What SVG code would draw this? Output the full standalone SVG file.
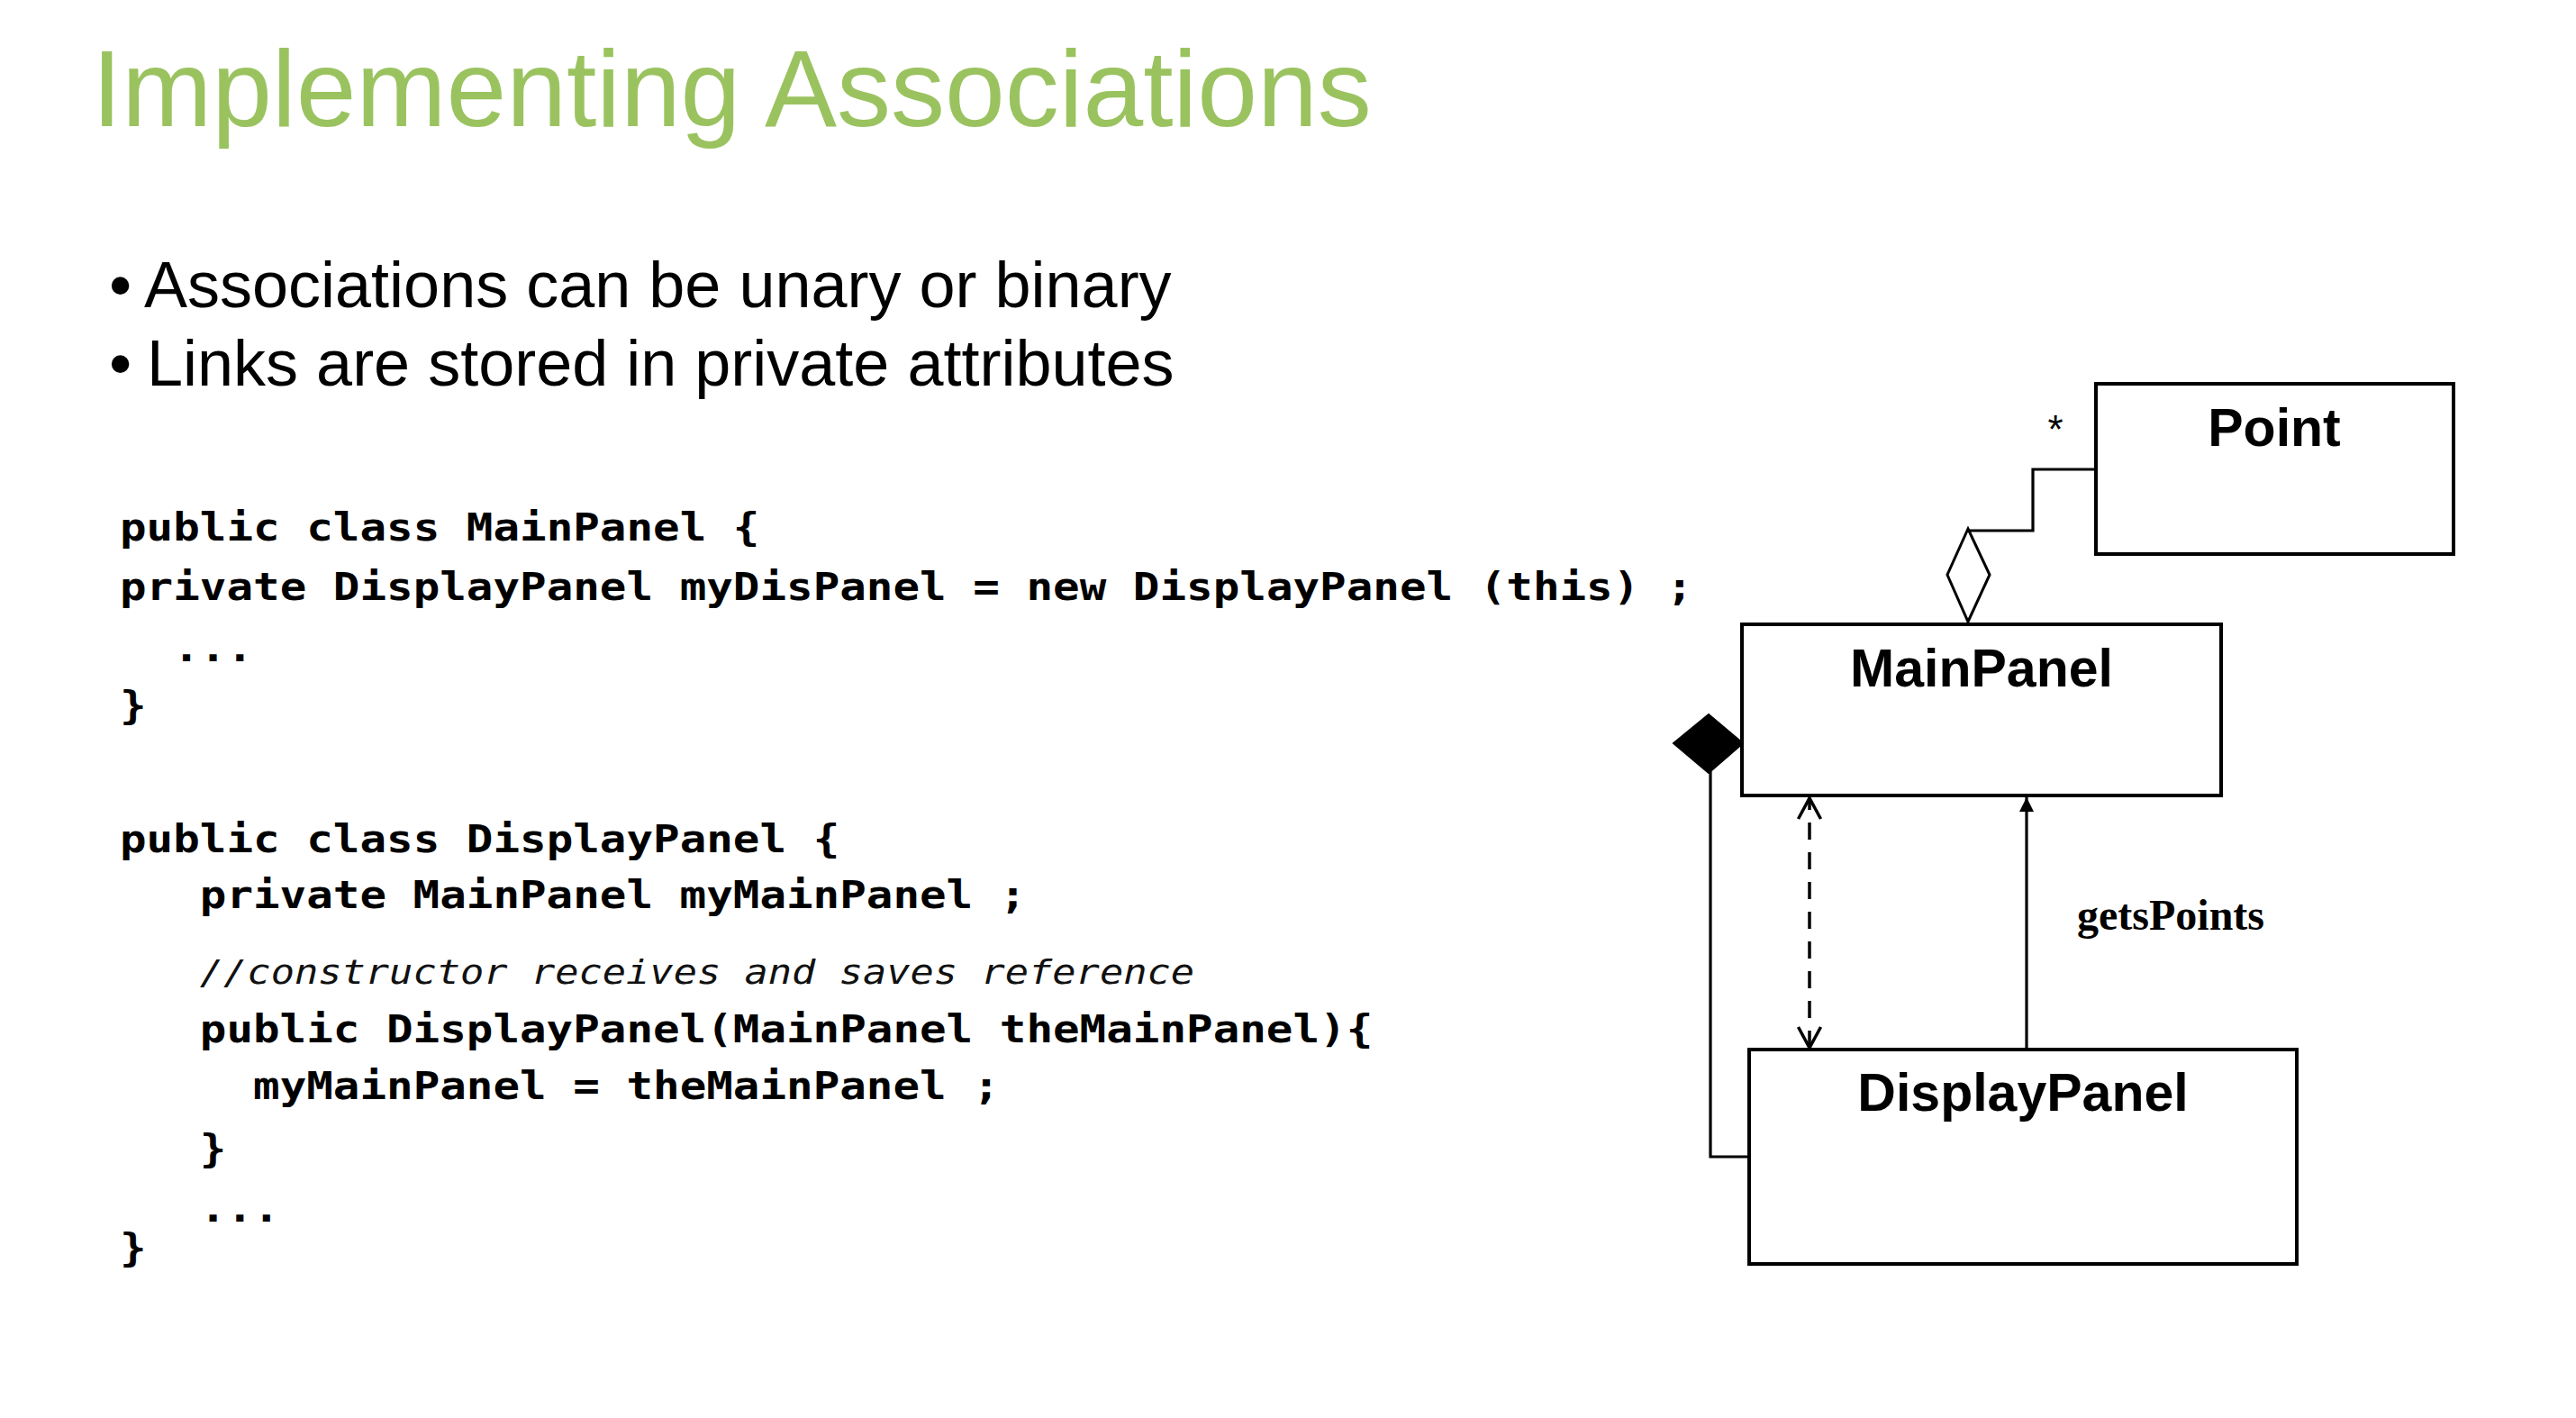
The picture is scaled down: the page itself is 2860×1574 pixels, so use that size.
<svg xmlns="http://www.w3.org/2000/svg" width="2860" height="1574" viewBox="0 0 2860 1574">
  <style>
    .title { font-family: "Liberation Sans", Arial, sans-serif; font-size: 120px; fill: #9AC360; }
    .bullet { font-family: "Liberation Sans", Arial, sans-serif; font-size: 72px; fill: #000; }
    .code { font-family: "DejaVu Sans Mono", monospace; font-size: 42px; font-weight: bold; fill: #000; white-space: pre; }
    .comment { font-family: "DejaVu Sans Mono", monospace; font-size: 37.3px; font-style: italic; fill: #111; }
    .box { fill: #fff; stroke: #000; stroke-width: 4; }
    .cls { font-family: "Liberation Sans", Arial, sans-serif; font-size: 59px; font-weight: bold; text-anchor: middle; fill: #000; }
    .conn { fill: none; stroke: #000; stroke-width: 3.2; }
    .dash { stroke-width: 3.5; stroke-dasharray: 19 14; }
    .lbl { font-family: "Liberation Serif", "Times New Roman", serif; font-size: 48px; font-weight: bold; fill: #000; }
    .mult { font-family: "Liberation Sans", Arial, sans-serif; font-size: 44px; text-anchor: middle; fill: #000; }
  </style>
  <defs>
    <marker id="openArrow" viewBox="-28 -16 32 32" refX="0" refY="0" markerWidth="32" markerHeight="32" markerUnits="userSpaceOnUse" orient="auto-start-reverse">
      <path d="M-23,-12.5 L0,0 L-23,12.5" fill="none" stroke="#000" stroke-width="3.5" stroke-dasharray="none"/>
    </marker>
    <marker id="solidArrow" viewBox="-20 -10 22 20" refX="0" refY="0" markerWidth="22" markerHeight="20" markerUnits="userSpaceOnUse" orient="auto">
      <path d="M-16,-8 L0,0 L-16,8 Z" fill="#000" stroke="none"/>
    </marker>
  </defs>

  <rect width="2860" height="1574" fill="#fff"/>

  <!-- heading -->
  <text class="title" x="102" y="140">Implementing Associations</text>

  <!-- bullet list -->
  <g id="bullets">
    <text class="bullet" x="121" y="341">•</text>
    <text class="bullet" x="160" y="341">Associations can be unary or binary</text>
    <text class="bullet" x="121" y="428">•</text>
    <text class="bullet" x="163" y="428">Links are stored in private attributes</text>
  </g>

  <!-- Java listing (monospace, widened horizontally) -->
  <g id="code" transform="scale(1.171,1)">
    <text class="code" x="113.6" y="600">public class MainPanel {</text>
    <text class="code" x="113.6" y="666">private DisplayPanel myDisPanel = new DisplayPanel (this) ;</text>
    <text class="code" x="164.2" y="734">...</text>
    <text class="code" x="113.6" y="798">}</text>

    <text class="code" x="113.6" y="946">public class DisplayPanel {</text>
    <text class="code" x="189.4" y="1008">private MainPanel myMainPanel ;</text>
    <text class="comment" x="189.4" y="1092">//constructor receives and saves reference</text>
    <text class="code" x="189.4" y="1157">public DisplayPanel(MainPanel theMainPanel){</text>
    <text class="code" x="240" y="1220">myMainPanel = theMainPanel ;</text>
    <text class="code" x="189.4" y="1290">}</text>
    <text class="code" x="189.4" y="1356">...</text>
    <text class="code" x="113.6" y="1400">}</text>
  </g>

  <!-- class boxes -->
  <g id="Point">
    <rect class="box" x="2327" y="426" width="397" height="189"/>
    <text class="cls" x="2525" y="495">Point</text>
  </g>
  <g id="MainPanel">
    <rect class="box" x="1934" y="693" width="532" height="190"/>
    <text class="cls" x="2200" y="762">MainPanel</text>
  </g>
  <g id="DisplayPanel">
    <rect class="box" x="1942" y="1165" width="608" height="238"/>
    <text class="cls" x="2246" y="1233">DisplayPanel</text>
  </g>

  <!-- relations -->
  <g id="connectors">
    <!-- aggregation MainPanel <>— Point -->
    <path class="conn" d="M2185,589 H2257 V521 H2327"/>
    <polygon points="2185,587 2209,638 2185,690 2162,638" fill="#fff" stroke="#000" stroke-width="3"/>
    <text class="mult" x="2282" y="492">*</text>

    <!-- composition MainPanel <#>— DisplayPanel -->
    <path class="conn" d="M1899,856 V1284 H1942"/>
    <polygon points="1858,825 1897,793 1935,825 1897,858" fill="#000" stroke="#000" stroke-width="2"/>

    <!-- bidirectional dependency -->
    <line class="conn dash" x1="2009" y1="1163" x2="2009" y2="886" marker-start="url(#openArrow)" marker-end="url(#openArrow)"/>

    <!-- navigable association getsPoints -->
    <line class="conn" x1="2250" y1="1165" x2="2250" y2="885" marker-end="url(#solidArrow)"/>
    <text class="lbl" x="2306" y="1032">getsPoints</text>
  </g>
</svg>
